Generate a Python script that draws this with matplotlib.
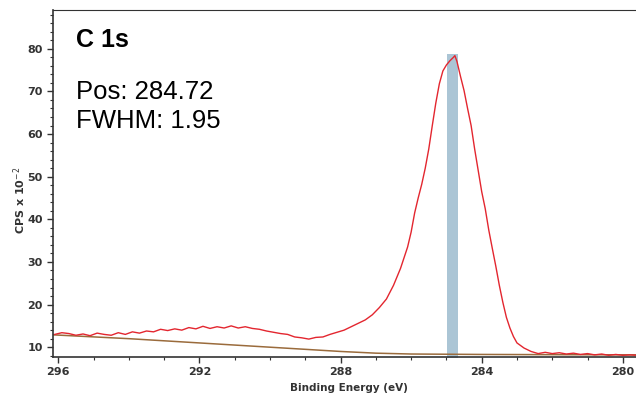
import numpy as np
import matplotlib.pyplot as plt

### C 1s spectrum
energy = [296.1, 295.9, 295.7, 295.5, 295.3, 295.1, 294.9, 294.7, 294.5, 294.3,
          294.1, 293.9, 293.7, 293.5, 293.3, 293.1, 292.9, 292.7, 292.5, 292.3,
          292.1, 291.9, 291.7, 291.5, 291.3, 291.1, 290.9, 290.7, 290.5, 290.3,
          290.1, 289.9, 289.7, 289.5, 289.3, 289.1, 288.9, 288.7, 288.5, 288.3,
          288.1, 287.9, 287.7, 287.5, 287.3, 287.1, 286.9, 286.7, 286.5, 286.3,
          286.1, 286.0, 285.9, 285.8, 285.7, 285.6, 285.5, 285.4, 285.3, 285.2,
          285.1, 285.0, 284.9, 284.8, 284.76, 284.7, 284.6, 284.5, 284.4, 284.3,
          284.2, 284.1, 284.0, 283.9, 283.8, 283.7, 283.6, 283.5, 283.4, 283.3,
          283.2, 283.1, 283.0, 282.8, 282.6, 282.4, 282.2, 282.0, 281.8, 281.6,
          281.4, 281.2, 281.0, 280.8, 280.6, 280.4, 280.2, 280.0, 279.8, 279.6]
cps = [13.0, 13.4, 13.2, 12.8, 13.1, 12.7, 13.3, 13.0, 12.8, 13.4,
       13.0, 13.6, 13.3, 13.8, 13.6, 14.2, 13.9, 14.3, 14.0, 14.6,
       14.3, 14.9, 14.4, 14.8, 14.5, 15.0, 14.5, 14.8, 14.4, 14.2,
       13.8, 13.5, 13.2, 13.0, 12.4, 12.2, 11.9, 12.3, 12.4, 13.0,
       13.5, 14.0, 14.8, 15.6, 16.4, 17.6, 19.3, 21.3, 24.5, 28.5,
       33.5, 37.0, 41.5, 45.0, 48.2, 52.0, 56.5, 62.0, 67.3, 71.8,
       74.8, 76.2, 77.2, 78.0, 78.4, 77.0, 73.5, 70.2, 66.0, 62.0,
       56.5, 51.5, 46.5, 42.5, 37.5, 33.2, 29.0, 24.5, 20.5, 17.0,
       14.5, 12.5, 11.0, 9.8, 9.0, 8.5, 8.8, 8.5, 8.7, 8.4,
       8.6, 8.3, 8.5, 8.2, 8.4, 8.1, 8.3, 8.1, 8.2, 8.1]

bg_energy = [296.15, 294.0, 292.0, 290.0, 289.0, 288.0, 287.0, 286.0, 284.0, 282.0, 279.4]
bg_cps = [12.9, 12.0, 11.0, 10.0, 9.5, 9.0, 8.6, 8.4, 8.3, 8.25, 8.2]

peak_lo, peak_hi, peak_top = 284.68, 284.99, 78.8

fig = plt.figure(figsize=(6.36, 3.98), dpi=100)
ax = fig.add_axes([53/636, 41/398, 591/636, 347/398])

ax.fill_between([peak_hi, peak_lo], 0, peak_top, color='#abc5d5', lw=0, zorder=1)
ax.plot(bg_energy, bg_cps, color='#9a6b3c', lw=1.1, zorder=2)
ax.plot(energy, cps, color='#e3262f', lw=1.0, zorder=3)

ax.set_xlim(296.15, 279.4)
ax.set_ylim(7.7, 89.1)
ax.set_xticks([296, 292, 288, 284, 280])
ax.set_xticks(np.arange(280, 297, 1), minor=True)
ax.set_yticks(np.arange(10, 81, 10))
ax.set_yticks(np.arange(8, 89, 2), minor=True)
ax.tick_params(which='major', direction='out', length=4, width=1, colors='#333333',
               labelsize=8)
ax.tick_params(which='minor', direction='out', length=2.5, width=0.8, colors='#333333')
for lab in ax.get_xticklabels() + ax.get_yticklabels():
    lab.set_fontweight('bold')
ax.spines['right'].set_visible(False)
for s in ['left', 'top', 'bottom']:
    ax.spines[s].set_color('#333333')
ax.spines['left'].set_linewidth(1.2)
ax.spines['bottom'].set_linewidth(1.2)

ax.set_xlabel('Binding Energy (eV)', fontsize=7.5, fontweight='bold', color='#333333',
              labelpad=4)
fig.text(20/636, 1 - 200/398, 'CPS x 10$^{-2}$', rotation=90, fontsize=8,
         fontweight='bold', color='#333333', ha='center', va='center')

fig.text(76/636, 1 - 47/398, 'C 1s', fontsize=18, fontweight='bold',
         family='Liberation Sans', va='baseline')
fig.text(76/636, 1 - 99/398, 'Pos: 284.72', fontsize=18.5, family='Liberation Sans',
         va='baseline')
fig.text(76/636, 1 - 128/398, 'FWHM: 1.95', fontsize=18.5, family='Liberation Sans',
         va='baseline')

fig.savefig('out.png', dpi=100)
